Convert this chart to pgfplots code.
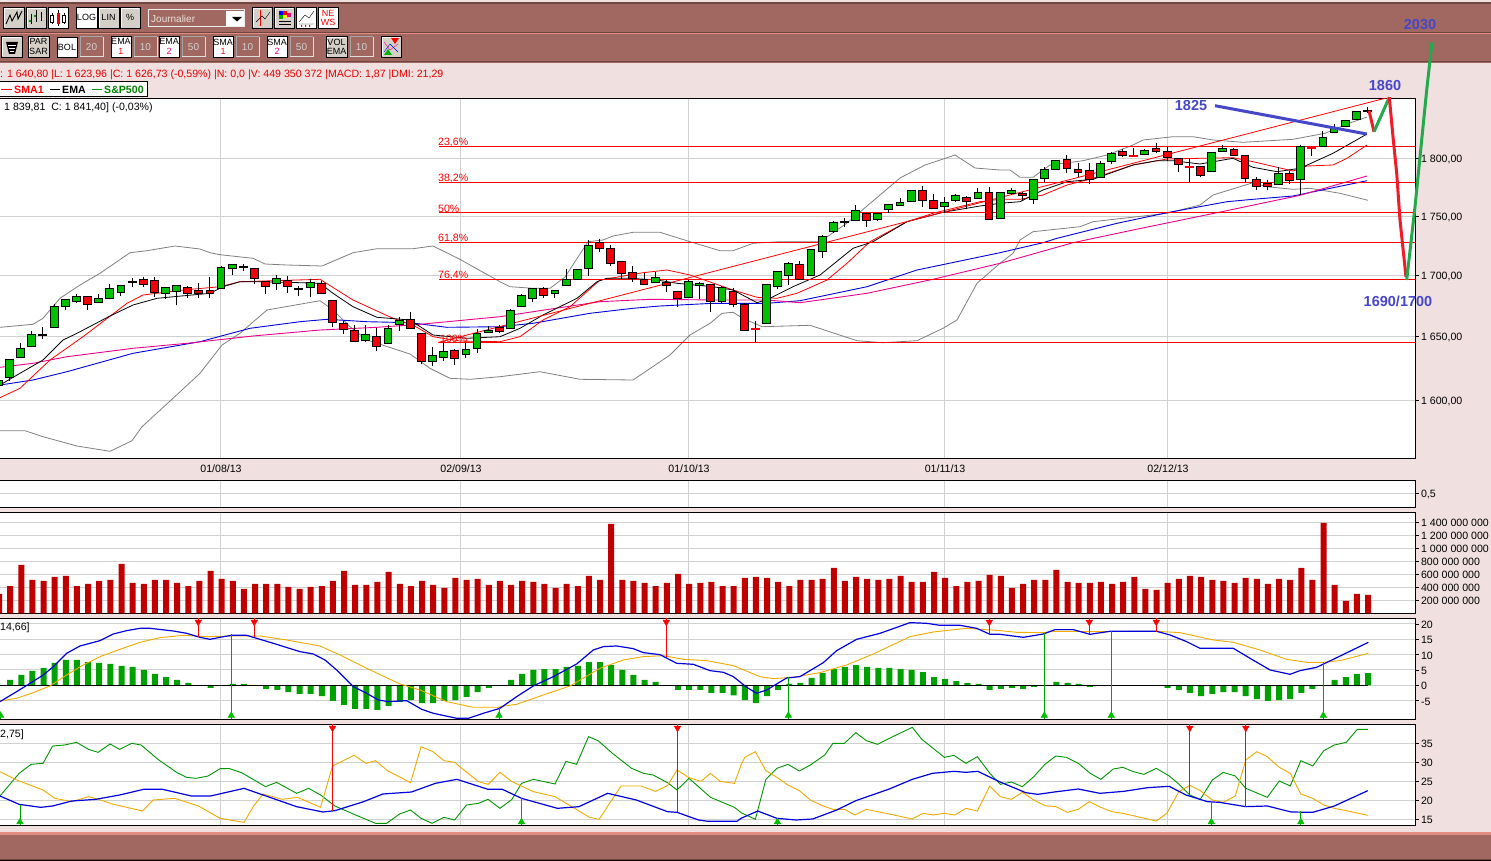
\documentclass[border=0pt]{standalone}
\usepackage{pgfplots}
\usepackage{pgfplotstable}
\usepackage{fontspec}
\setmainfont{Liberation Sans}
\pgfplotsset{compat=1.18}
\definecolor{tb}{RGB}{160,104,96}
\definecolor{tbd}{RGB}{112,70,64}
\definecolor{tbl}{RGB}{226,140,130}
\definecolor{pk}{RGB}{240,224,224}
\definecolor{gridc}{RGB}{208,208,208}
\definecolor{volr}{RGB}{192,0,0}
\definecolor{histg}{RGB}{0,160,0}
\definecolor{cg}{RGB}{0,192,0}
\definecolor{cr}{RGB}{240,0,8}
\definecolor{org}{RGB}{240,170,0}
\definecolor{bl}{RGB}{0,0,220}
\definecolor{bgy}{RGB}{128,128,128}
\definecolor{ann}{RGB}{70,70,200}
\definecolor{tkr}{RGB}{240,28,40}
\definecolor{tkg}{RGB}{34,170,76}
\definecolor{btn}{RGB}{212,208,200}
\definecolor{gline}{RGB}{0,150,0}
\newcommand\fsz{\fontsize{10.6}{12}\selectfont}
\newcommand\afsz{\fontsize{14.5}{16}\bfseries\selectfont}

\pgfplotstableread{
i t b h l
-1 380 385 377 385
0 359 377 359 381
1 348 357 343 357
2 334 346 331 346
4 306 327 304 327
5 299 306 299 310
6 296 301 294 303
8 298 302 294 302
9 288 298 284 298
10 285 292 285 296
14 287 293 287 299
15 285 291 285 305
19 267 288 266 289
20 264 268 264 275
24 278 283 275 290
27 282 287 279 297
32 334 340 325 342
34 328 343 325 343
35 320 324 317 331
38 355 361 347 366
39 351 357 343 361
41 349 354 343 358
42 333 348 329 353
43 330 332 326 333
45 310 328 309 328
46 295 306 294 306
47 288 298 288 302
49 290 293 290 298
50 279 285 269 285
51 269 279 269 279
52 245 268 240 276
58 277 282 272 283
61 281 297 280 297
62 283 285 282 299
64 287 301 286 303
68 284 323 284 323
69 271 286 271 289
70 263 275 262 285
72 249 275 249 275
73 236 251 235 258
74 222 231 221 233
76 210 220 205 220
78 213 219 213 221
79 204 209 204 213
80 202 205 198 206
81 190 201 190 201
84 202 206 197 213
85 195 200 194 202
87 192 198 188 199
89 192 218 192 218
90 190 193 188 195
92 179 199 179 204
93 169 178 167 182
94 160 169 160 169
98 163 177 161 177
99 153 161 152 164
102 150 154 149 155
108 152 171 152 171
109 148 151 145 151
114 173 184 167 184
116 146 179 145 195
118 137 146 131 146
119 127 132 124 132
120 120 126 120 126
121 111 119 111 119
}\greencandles
\pgfplotstableread{
i t b h l
7 296 304 296 310
12 279 284 277 287
13 280 292 277 297
16 287 293 286 298
17 290 293 283 298
18 290 293 277 298
22 268 278 268 284
23 281 286 281 294
25 280 286 276 293
28 283 293 281 294
29 300 322 300 327
30 323 329 321 334
31 330 341 325 342
33 336 346 328 351
36 319 328 312 329
37 333 361 333 364
40 350 358 349 365
44 327 331 325 333
48 288 295 287 298
53 242 248 239 252
54 248 263 245 266
55 261 273 261 279
56 272 278 266 282
57 279 284 273 285
59 282 285 280 292
60 291 298 291 307
63 284 301 284 312
65 291 304 288 307
66 304 330 303 330
71 264 279 261 280
77 213 220 213 227
82 190 200 186 207
83 200 208 194 208
86 197 201 196 209
88 192 219 187 220
91 193 195 192 201
95 159 168 155 173
96 169 172 163 177
97 170 179 163 184
100 151 155 149 157
103 148 151 143 153
104 151 157 147 161
105 158 164 158 172
107 166 175 166 177
110 149 155 148 155
111 155 178 155 182
112 179 186 177 190
113 183 186 180 190
115 173 180 171 184
}\redcandles
\pgfplotstableread{
i t b h l
3 334 335 327 339
11 281 282 278 287
21 266 267 264 271
26 288 289 286 296
75 221 222 218 227
122 110 111 107 113
}\dojiblack
\pgfplotstableread{
i t b h l
67 328 329 321 342
101 155 156 148 157
106 166 167 158 182
117 147 148 146 156
}\dojired
\pgfplotstableread{
i v
-1 297
0 420
1 744
2 513
3 497
4 559
5 574
6 420
7 451
8 497
9 513
10 759
11 467
12 451
13 513
14 513
15 467
16 420
17 497
18 651
19 528
20 497
21 374
22 451
23 451
24 451
25 405
26 374
27 405
28 420
29 497
30 651
31 436
32 436
33 482
34 636
35 451
36 420
37 497
38 436
39 390
40 544
41 513
42 528
43 436
44 497
45 436
46 497
47 482
48 451
49 390
50 451
51 420
52 574
53 513
54 1374
55 513
56 497
57 467
58 420
59 467
60 605
61 451
62 467
63 482
64 420
65 420
66 544
67 559
68 544
69 482
70 420
71 513
72 513
73 528
74 697
75 497
76 559
77 528
78 513
79 528
80 574
81 482
82 482
83 636
84 544
85 420
86 482
87 497
88 590
89 574
90 390
91 451
92 513
93 513
94 667
95 482
96 467
97 467
98 482
99 451
100 482
101 559
102 374
103 359
104 467
105 528
106 574
107 559
108 513
109 497
110 467
111 544
112 528
113 451
114 528
115 513
116 697
117 513
118 1390
119 436
120 190
121 297
122 282
}\volume
\pgfplotstableread{
i v
0 1.74
1 3.4
2 4.7
3 5.65
4 7.3
5 8.3
6 8.3
7 7.6
8 7.3
9 7
10 6.3
11 6
12 5
13 3.7
14 2.7
15 1.74
16 0.76
18 -0.87
20 0.43
21 0.43
23 -1.2
24 -1.5
25 -2.2
26 -2.8
27 -2.8
28 -3.5
29 -5.1
30 -6.4
31 -7.7
32 -7.7
33 -8
34 -6.7
35 -5.4
36 -4.8
37 -5.8
38 -5.8
39 -5.1
40 -4.8
41 -3.8
42 -2.2
43 -0.87
45 1.74
46 3.7
47 5
48 5.3
49 5.3
50 6
51 6.3
52 7.6
53 7.6
54 6.6
55 5
56 3.4
57 1.74
58 1.1
60 -1.5
61 -1.5
62 -1.5
63 -2.5
64 -2.5
65 -3.3
66 -4.8
67 -5.8
68 -3.5
69 -1.5
70 0.43
71 0.76
72 2.4
73 4
74 5.3
75 6
76 6.6
77 6
78 5.65
79 5.65
80 5.3
81 5
82 4.3
83 2.7
84 2
85 1.4
86 0.76
87 0.43
88 -1.5
89 -1.2
90 -0.87
91 -1.2
92 -0.5
94 1.1
95 0.76
96 0.43
97 -0.5
104 -0.87
105 -1.5
106 -2.5
107 -3.5
108 -2.8
109 -2.2
110 -2.2
111 -3.5
112 -4.5
113 -5.1
114 -4.8
115 -4.5
116 -2.5
117 -1.2
119 1.74
120 2.7
121 3.7
122 4
}\hist

% candle drawing through error bars: wick, black body, coloured body
\newcommand\wicks[1]{\addplot[draw=none,mark=none,forget plot,error bars/.cd,y dir=both,y explicit,error mark=none,error bar style={black,line width=1pt}] table[x expr=9.6+11.13*\thisrow{i},y=t,y error plus expr=\thisrow{l}-\thisrow{t},y error minus expr=\thisrow{t}-\thisrow{h}] {#1};}
\newcommand\bodies[3]{\addplot[draw=none,mark=none,forget plot,error bars/.cd,y dir=both,y explicit,error mark=none,error bar style={#2,line width=#3}] table[x expr=9.6+11.13*\thisrow{i},y expr=\thisrow{t}-0.5,y error plus expr=\thisrow{b}-\thisrow{t}+1,y error minus expr=0] {#1};}
\newcommand\inner[3]{\addplot[draw=none,mark=none,forget plot,error bars/.cd,y dir=both,y explicit,error mark=none,error bar style={#2,line width=#3}] table[x expr=9.6+11.13*\thisrow{i},y expr=\thisrow{t}+0.5,y error plus expr=\thisrow{b}-\thisrow{t}-1,y error minus expr=0] {#1};}
% signals
\newcommand\sigdn[4]{\addplot[red,line width=.9pt,forget plot] coordinates {(#1,#2)(#1,#3)};\addplot[only marks,mark=triangle*,mark size=3.8pt,mark options={rotate=180,fill=red,draw=red},forget plot] coordinates {(#1,#4)};}
\newcommand\sigup[4]{\addplot[cg!85!black,line width=.9pt,forget plot] coordinates {(#1,#2)(#1,#3)};\addplot[only marks,mark=triangle*,mark size=3.8pt,mark options={fill=cg,draw=cg},forget plot] coordinates {(#1,#4)};}
% buttons
\newcommand\btn[6]{\fill[#5] (#1,#2) rectangle (#3,#4);\draw[black,line width=.8pt] (#1,#2) rectangle (#3,#4);\draw[white,line width=.6pt] (#1+1,#4-1)--(#1+1,#2+1)--(#3-1,#2+1);\node[inner sep=0,align=center,font=\fontsize{9}{9.2}\selectfont] at ({(#1+#3)/2},{(#2+#4)/2}) {#6};}
\newcommand\fld[5]{\fill[tb] (#1,#2) rectangle (#3,#4);\draw[gray!70,line width=1pt] (#1,#4)--(#1,#2)--(#3,#2);\draw[gray!25,line width=1pt] (#3,#2)--(#3,#4)--(#1,#4);\node[inner sep=0,text=gray!35,font=\fontsize{10}{10}\selectfont] at ({(#1+#3)/2},{(#2+#4)/2}) {#5};}

\pgfplotsset{panel/.style={scale only axis,width=1416.5pt,xmin=-1,xmax=1415.5,
 xtick={220.5,460.5,688.5,944.5,1167.5},xmajorgrids,ymajorgrids,
 grid style={gridc,line width=1pt},axis line style={black,line width=1pt},
 axis background/.style={fill=white},
 xtick style={draw=none},ytick style={black,line width=.8pt},
 ytick pos=right,yticklabel pos=right,tick align=outside,major tick length=3pt,
 tick label style={font=\fsz,text=black},
 yticklabel style={anchor=west,xshift=-1pt,yshift=-0.8pt},
 scaled y ticks=false}}
\begin{document}
\begin{tikzpicture}[x=1pt,y=-1pt]
\useasboundingbox (0,0) rectangle (1491,861);
\clip (0,0) rectangle (1491,861);
\fill[pk] (0,0) rectangle (1491,861);
% toolbars
\fill[tb] (0,2) rectangle (1491,63);
\fill[tbd] (0,2.5) rectangle (1491,3.6);
\fill[tbd] (0,32.4) rectangle (1491,33.4);
\fill[tbl] (0,33.4) rectangle (1491,34.2);
\fill[tbd] (0,60.6) rectangle (1491,62);
\btn{3.5}{7.5}{24}{28}{btn}{}
\draw[black,line width=.9pt] (6,24)--(10,15)--(12,21)--(17,12)--(18,19)--(22,11);
\btn{26}{7.5}{46}{28}{btn}{}
\draw[black,line width=.9pt] (31,14)--(31,24) (36,10)--(36,22) (41,12)--(41,21);
\draw[green!60!black,line width=1.5pt] (28.5,21)--(31,21) (33.5,16)--(36,16);
\btn{48}{7.5}{68}{28}{white}{}
\draw[black] (52,13)--(52,24) (58,10)--(58,26) (64,13)--(64,24);
\fill[cr] (56.5,13) rectangle (59.5,24);
\fill[white,draw=black] (50.5,15) rectangle (53.5,22) (62.5,15) rectangle (65.5,22);
\btn{76}{7.5}{97}{28}{white}{LOG}
\btn{98}{7.5}{119}{28}{btn}{LIN}
\btn{120}{7.5}{140}{28}{btn}{\%}
\draw[white!85!gray,line width=1pt] (148,10) rectangle (244,27);
\fill[white] (226,11) rectangle (243.5,26.5);
\fill[black] (232,17) -- (242,17) -- (237,21.5) -- cycle;
\node[anchor=west,inner sep=0,text=white!80!tb,font=\fontsize{10}{10}\selectfont] at (151,19) {Journalier};
\btn{252}{7.5}{272}{28}{btn}{}
\draw[red,line width=1pt] (260,10)--(260,26);
\draw[black] (256,22)--(262,16)--(265,19)--(270,12);
\btn{274}{7.5}{294}{28}{btn}{}
\fill[blue] (279,11) rectangle (283,15); \fill[red] (283,11) rectangle (287,15);\fill[magenta] (287,13) rectangle (291,17);\fill[green!70!black] (279,15) rectangle (283,19);\fill[yellow] (284,15) rectangle (287,18);\fill[black] (279,21) rectangle (291,22);\fill[black] (279,24) rectangle (291,25);
\btn{296}{7.5}{316}{28}{white}{}
\draw[black] (299,22)--(305,15)--(309,18)--(314,11) (299,24)--(314,24);
\fill[cr] (301,25) rectangle (302,27) (305,25) rectangle (306,27) (309,25) rectangle (310,27);
\btn{318}{7.5}{338}{28}{white}{\textcolor{red}{NE}\\\textcolor{red}{WS}}
\btn{1}{36}{22}{57}{btn}{}
\fill[black] (6,42) -- (18,42) -- (15,54) -- (9,54) -- cycle;
\draw[white,line width=.5pt] (8,45)--(16,45) (9,48)--(15,48) (10,51)--(14,51);
\btn{28}{36}{49}{57}{btn}{PAR\\SAR}
\btn{57}{37}{77}{57}{white}{BOL}
\fld{80}{37}{103}{57}{20}
\btn{111}{36}{131}{57}{white}{EMA\\\textcolor{red}{1}}
\fld{134}{37}{157}{57}{10}
\btn{159}{36}{179}{57}{white}{EMA\\\textcolor{magenta}{2}}
\fld{182}{37}{205}{57}{50}
\btn{213}{36}{233}{57}{white}{SMA\\\textcolor{red}{1}}
\fld{236}{37}{259}{57}{10}
\btn{267}{36}{287}{57}{white}{SMA\\\textcolor{magenta}{2}}
\fld{290}{37}{313}{57}{50}
\btn{326}{36}{347}{57}{btn}{VOL\\EMA}
\fld{350}{37}{373}{57}{10}
\btn{381}{36}{401}{57}{btn}{}
\draw[magenta] (384,42)--(390,50)--(398,44);
\draw[blue] (384,52)--(390,44)--(398,52);
\fill[red] (391,38)--(399,38)--(395,44)--cycle;
\fill[green!70!black] (384,55)--(392,55)--(388,49)--cycle;
% bottom bar
\fill[tb] (0,832) rectangle (1491,861);
\fill[tbl] (0,832) rectangle (1491,834.6);
\fill[tbd] (0,858.6) rectangle (1491,860);
\fill[black] (0,860) rectangle (1491,861);

% ---------- main price panel (rows of the plot, prices on the ticks)
\begin{axis}[panel,at={(-1pt,-458.3pt)},anchor=south west,height=360pt,y dir=reverse,
 ymin=98.3,ymax=458.3,
 ytick={158.3,216.3,275.3,336.8,400.3},
 yticklabels={{1 800,00},{1 750,00},{1 700,00},{1 650,00},{1 600,00}},
 xticklabels={01/08/13,02/09/13,01/10/13,01/11/13,02/12/13},
 xticklabel style={yshift=0pt,xshift=0.5pt}]
% Bollinger
\addplot[bgy,line width=.8pt] coordinates {(0,327.3)(33,324.3)(43,318.3)(60,298.3)(80,285)(100,273.3)(130,252.7)(147,250.7)(175,246)(200,249)(210,252.7)(220,254.7)(253,258.3)(265,264)(287,265)(322,266)(353,252.7)(377,248.7)(413,248.7)(433,246)(460,259.3)(473,266.7)(500,281.7)(510,286.7)(533,288.3)(550,288.3)(565,277)(588,241.7)(603,240)(613,236)(633,232.3)(660,232.3)(690,241.7)(720,250.7)(733,250.7)(753,243.3)(780,241.7)(820,241.7)(847,223)(880,195)(900,178)(925,165)(955,155)(975,168)(1000,170)(1010,170)(1020,177.3)(1033,177.3)(1050,165)(1083,160.7)(1107,155)(1133,145)(1143,140)(1173,136.7)(1193,136.7)(1213,140)(1243,142.3)(1293,139.3)(1325,133.3)(1347,124)(1367,117)};
\addplot[bgy,line width=.8pt] coordinates {(0,430.7)(25,430.7)(43,436.7)(77,446)(110,451.3)(132,440.7)(142,426.7)(173,398.3)(200,373.3)(222,345)(240,333.3)(267,310)(320,300.7)(333,310)(350,326.7)(367,340)(410,354)(430,368.3)(450,378.3)(470,379.3)(500,376.7)(540,371.7)(580,379.3)(633,380)(670,355)(690,335)(710,323.3)(722,313.3)(733,312.3)(743,318.3)(762,326.7)(810,325.3)(857,340.7)(883,342.7)(917,340.7)(943,328.3)(957,320)(977,283.3)(1000,263.3)(1013,253.3)(1020,240)(1033,231.7)(1080,226.7)(1093,221.7)(1167,213.3)(1200,205)(1213,195)(1253,182.7)(1267,186.7)(1293,189.3)(1310,188.3)(1340,193.3)(1368,200.3)};
% EMA 50 and SMA 50
\addplot[bl,line width=.9pt] coordinates {(0,385)(33,380)(67,371.7)(133,353.3)(200,341.7)(250,328.3)(300,321.7)(327,319.3)(367,321.7)(410,322.7)(447,327.3)(500,326.7)(533,323.3)(590,313.3)(633,308.3)(660,306)(713,303.3)(767,303.3)(800,300.7)(867,286.7)(917,270)(1000,252.7)(1043,242.7)(1057,238.3)(1117,223.3)(1167,212.7)(1227,201.7)(1253,199.3)(1293,196)(1367,180.7)};
\addplot[magenta,line width=.9pt] coordinates {(0,367.3)(33,363.3)(67,356.7)(133,348.3)(187,343.3)(253,336)(320,330)(377,327.3)(420,324.3)(500,316.7)(533,311.7)(600,301.7)(650,299.3)(717,300)(767,300)(800,302.7)(867,293.3)(933,279.3)(1000,263.3)(1073,242.7)(1133,230)(1217,212.7)(1300,195.3)(1367,176)};
% SMA 10 and EMA 10
\addplot[red,line width=.8pt] coordinates {(0,397.7)(20,388.3)(50,360)(83,336.7)(127,303.3)(143,295)(183,290)(220,286.7)(240,281.7)(320,279.3)(353,300)(393,318.3)(413,325)(433,336.7)(460,341)(500,341.7)(520,336.7)(543,320)(570,306.7)(600,280)(643,272.7)(667,270)(690,275)(733,290)(757,297.3)(777,298.3)(797,293.3)(827,280)(847,263.3)(870,241.7)(907,221.7)(933,213.3)(980,201.7)(1000,199.3)(1020,199.3)(1043,195)(1067,185)(1093,178.3)(1133,165)(1167,159)(1200,158.3)(1233,157.7)(1253,161.7)(1293,171)(1307,166)(1333,165)(1347,158.3)(1367,145)};
\addplot[black,line width=.8pt] coordinates {(0,385)(20,373.3)(43,360)(63,340)(77,333.3)(110,316)(133,305)(157,298.3)(210,293.3)(223,286.7)(240,281.7)(260,281.7)(287,282.3)(320,283.3)(333,293.3)(353,306.7)(377,317.3)(410,320)(433,335)(467,338.3)(500,336.7)(520,328.3)(543,315)(577,298.3)(597,281.7)(607,278.3)(630,278.3)(657,280)(677,283.3)(713,286.7)(733,290)(757,302.7)(770,298.3)(793,286.7)(820,275)(853,248.3)(873,241.7)(907,221.7)(943,212.3)(980,206)(1000,203.3)(1020,201.7)(1043,190)(1067,181.7)(1093,179.3)(1133,165)(1157,160.7)(1173,160.7)(1200,164)(1233,158.3)(1253,167.3)(1277,171.7)(1300,168.3)(1333,153.3)(1367,134)};
% trend line and retracement levels
\addplot[red,line width=.8pt] coordinates {(438,342.5)(1390,97)};
\addplot[red,line width=.9pt] coordinates {(439,146.3)(1415.5,146.3)};
\addplot[red,line width=.9pt] coordinates {(439,182.3)(1415.5,182.3)};
\addplot[red,line width=.9pt] coordinates {(439,212.5)(1415.5,212.5)};
\addplot[red,line width=.9pt] coordinates {(439,242.3)(1415.5,242.3)};
\addplot[red,line width=.9pt] coordinates {(439,279.3)(1415.5,279.3)};
\addplot[red,line width=.9pt] coordinates {(439,342.3)(1415.5,342.3)};
% candles
\wicks{\greencandles}\wicks{\redcandles}\wicks{\dojiblack}\wicks{\dojired}
\bodies{\greencandles}{black}{8.8pt}\bodies{\redcandles}{black}{8.8pt}
\bodies{\dojiblack}{black}{9pt}\bodies{\dojired}{cr}{9pt}
\inner{\greencandles}{cg}{6.8pt}\inner{\redcandles}{cr}{6.8pt}
\end{axis}

% ---------- empty oscillator panel
\begin{axis}[panel,at={(-1pt,-507.3pt)},anchor=south west,height=27pt,ymin=0,ymax=1,
 ytick={0.5},yticklabel={0,5},xticklabel=\empty]
\addplot[draw=none,forget plot] coordinates {(0,0)(1,1)};
\end{axis}

% ---------- volume
\begin{axis}[panel,at={(-1pt,-613.3pt)},anchor=south west,height=101pt,ymin=0,ymax=1553.8,
 ytick={200,400,600,800,1000,1200,1400},
 yticklabels={{200 000 000},{400 000 000},{600 000 000},{800 000 000},{1 000 000 000},{1 200 000 000},{1 400 000 000}},
 xticklabel=\empty]
\addplot[ybar,bar width=6pt,bar shift=0pt,fill=volr,draw=none] table[x expr=10.2+11.13*\thisrow{i},y=v] {\volume};
\end{axis}

% ---------- MACD
\begin{axis}[panel,at={(-1pt,-719.3pt)},anchor=south west,height=101pt,ymin=-11.09,ymax=21.85,
 ytick={-5,0,5,10,15,20},yticklabels={-5,0,5,10,15,20},xticklabel=\empty]
\addplot[ybar,bar width=6pt,bar shift=0pt,fill=histg,draw=none,forget plot] table[x expr=10.2+11.13*\thisrow{i},y=v] {\hist};
\addplot[black,line width=.9pt,forget plot] coordinates {(-1,0)(1368,0)};
% orange signal
\addplot[org,line width=.9pt] table[x expr=\thisrow{x}/3,y expr=(616-\thisrow{y})/9.2] {
x y
0 663
50 655
100 638
150 618
200 585
250 555
300 530
360 508
420 487
480 473
550 466
620 470
700 468
780 468
860 480
960 498
1020 525
1100 565
1200 612
1260 630
1340 665
1420 682
1500 682
};
\addplot[org,line width=.9pt] table[x expr=500+\thisrow{x}/3,y expr=(616-\thisrow{y})/9.2] {
x y
0 680
50 673
130 645
210 618
300 565
370 540
430 530
490 527
550 538
620 542
700 557
780 590
820 596
880 592
960 578
1040 555
1120 522
1230 470
1300 456
1400 445
1500 452
};
\addplot[org,line width=.9pt] table[x expr=1000+\thisrow{x}/3,y expr=(616-\thisrow{y})/9.2] {
x y
0 452
50 457
130 458
160 454
220 454
270 455
470 454
540 458
640 480
700 487
780 510
860 538
920 547
970 547
1020 542
1105 520
};
% blue MACD
\addplot[bl,line width=1.2pt] table[x expr=\thisrow{x}/3,y expr=(616-\thisrow{y})/9.2] {
x y
0 665
50 635
90 610
130 585
160 560
200 520
240 498
300 482
340 462
380 452
420 445
450 445
520 453
560 460
600 472
630 478
660 472
695 466
740 466
780 478
820 490
900 515
940 522
975 540
1010 570
1060 620
1100 640
1135 660
1165 665
1220 662
1265 688
1300 700
1370 715
1405 715
1450 700
1500 685
};
\addplot[bl,line width=1.2pt] table[x expr=500+\thisrow{x}/3,y expr=(616-\thisrow{y})/9.2] {
x y
0 685
50 650
100 618
160 590
230 552
280 510
310 500
350 498
400 506
430 518
480 524
530 550
580 553
630 572
670 577
700 590
740 622
770 640
800 630
860 594
900 590
970 548
1010 512
1070 478
1140 460
1230 428
1280 430
1320 436
1380 436
1430 445
1470 463
1500 463
};
\addplot[bl,line width=1.2pt] table[x expr=1000+\thisrow{x}/3,y expr=(616-\thisrow{y})/9.2] {
x y
0 463
70 472
130 462
165 449
220 449
270 463
330 454
470 454
510 465
560 485
600 505
700 505
750 535
810 570
870 583
900 572
950 562
1000 538
1105 487
};
\sigdn{198.3}{21.85}{15.8}{20.64}
\sigdn{254.3}{21.85}{15.7}{20.64}
\sigdn{666.3}{21.85}{9.3}{20.64}
\sigdn{989.3}{21.85}{16.7}{20.64}
\sigdn{1089.3}{21.85}{16.6}{20.64}
\sigdn{1156.3}{21.85}{17.4}{20.64}
\sigup{0.5}{-11.09}{-9}{-9.85}
\sigup{231.3}{-11.09}{16.6}{-9.85}
\sigup{499}{-11.09}{-7}{-9.85}
\sigup{788.3}{-11.09}{2.8}{-9.85}
\sigup{1044.3}{-11.09}{17.15}{-9.85}
\sigup{1111.3}{-11.09}{17.8}{-9.85}
\sigup{1323.3}{-11.09}{7.6}{-9.85}
\end{axis}

% ---------- DMI
\begin{axis}[panel,at={(-1pt,-825.3pt)},anchor=south west,height=101pt,ymin=13.42,ymax=40,
 ytick={15,20,25,30,35},yticklabels={15,20,25,30,35},xticklabel=\empty]
\addplot[gline,line width=.9pt] table[x expr=\thisrow{x}/2.09,y expr=15+(297.9-\thisrow{y})/11.4] {
x y
0 228
40 160
65 133
90 130
110 78
135 75
160 67
185 88
205 97
230 72
250 88
275 70
295 75
330 118
370 158
390 172
410 175
435 168
460 146
480 146
505 158
555 200
578 187
620 220
645 205
670 225
700 258
740 283
785 310
808 310
835 282
858 270
880 295
903 310
928 292
950 300
975 255
1000 250
1020 238
1045 265
1070 238
1090 190
1115 178
1160 192
1183 124
1205 133
1230 50
1250 62
1280 100
1320 145
1345 160
1365 165
1395 188
1415 210
1440 175
1485 232
1535 262
1549 278
};
\addplot[gline,line width=.9pt] table[x expr=741+\thisrow{x}/2.09,y expr=15+(297.9-\thisrow{y})/11.4] {
x y
0 278
30 298
52 178
75 145
98 133
122 153
145 135
175 105
192 70
216 70
240 38
262 62
285 73
310 55
358 22
378 58
425 112
445 106
470 130
494 110
520 160
542 193
565 186
588 200
612 170
635 133
658 108
680 112
705 130
730 160
752 178
778 147
798 142
820 155
842 163
868 145
895 168
915 192
938 225
960 238
985 180
1008 157
1033 168
1055 205
1100 232
1125 183
1148 198
1170 122
1195 138
1218 92
1240 75
1265 67
1288 28
1310 28
};
\addplot[org,line width=.9pt] table[x expr=\thisrow{x}/2.09,y expr=15+(297.9-\thisrow{y})/11.4] {
x y
0 155
35 180
90 210
115 235
150 245
185 230
210 240
235 252
298 273
320 240
365 235
415 258
460 295
510 307
530 258
550 222
590 238
622 232
670 262
695 138
740 106
765 130
785 122
810 152
858 188
880 80
905 95
928 122
950 127
1000 185
1020 193
1045 157
1070 185
1115 215
1160 230
1195 260
1232 292
1252 298
1298 198
1340 198
1370 214
1395 197
1415 150
1440 173
1465 184
1485 160
1505 184
1535 190
1549 135
};
\addplot[org,line width=.9pt] table[x expr=741+\thisrow{x}/2.09,y expr=15+(297.9-\thisrow{y})/11.4] {
x y
0 135
8 112
30 95
52 152
75 172
98 195
122 212
145 240
170 257
192 268
216 268
238 285
262 268
310 282
358 297
380 280
402 285
425 280
447 285
470 265
494 273
520 198
542 230
565 238
588 217
612 240
635 257
658 260
682 277
705 268
728 245
752 262
775 275
798 280
868 303
890 280
915 215
938 196
960 212
985 240
1008 247
1033 228
1055 120
1078 95
1100 110
1125 142
1148 160
1170 222
1195 235
1218 255
1240 265
1265 272
1310 286
};
\addplot[bl,line width=1.2pt] table[x expr=\thisrow{x}/2.09,y expr=15+(297.9-\thisrow{y})/11.4] {
x y
0 228
40 253
85 262
110 258
150 243
200 238
250 225
300 208
340 208
400 228
440 228
510 205
550 225
620 260
675 276
700 272
760 245
800 222
860 216
910 190
955 178
1020 208
1050 208
1090 235
1165 265
1210 260
1270 220
1330 240
1395 275
1415 277
1460 300
1480 304
1540 304
1549 295
};
\addplot[bl,line width=1.2pt] table[x expr=741+\thisrow{x}/2.09,y expr=15+(297.9-\thisrow{y})/11.4] {
x y
0 295
35 273
75 295
115 300
150 297
200 270
240 242
260 232
310 207
358 178
400 160
445 154
470 157
495 154
540 185
595 218
620 223
660 215
705 207
750 220
800 214
850 203
895 199
930 225
975 245
1000 247
1055 260
1100 258
1150 276
1195 277
1240 258
1310 212
};
\sigdn{332.5}{40}{17.26}{39.03}
\sigdn{677.5}{40}{17}{39.03}
\sigdn{1189.8}{40}{21.1}{39.03}
\sigdn{1245.8}{40}{18.3}{39.03}
\sigup{20}{13.42}{18.76}{14.3}
\sigup{521.5}{13.42}{20.5}{14.3}
\sigup{777.4}{13.42}{15}{14.3}
\sigup{1211.3}{13.42}{19.6}{14.3}
\sigup{1300.8}{13.42}{17.26}{14.3}
\end{axis}

% ---------- annotations over everything
\begin{axis}[scale only axis,at={(0pt,-861pt)},anchor=south west,width=1491pt,height=861pt,
 xmin=0,xmax=1491,ymin=0,ymax=861,y dir=reverse,hide axis,clip=false]
\addplot[ann,line width=3pt] coordinates {(1215,105.7)(1366.7,134)};
\addplot[tkr,line width=3pt] coordinates {(1369,110.7)(1374,131.7)};
\addplot[tkg,line width=3pt] coordinates {(1374,131.7)(1389.3,97.3)};
\addplot[tkr,line width=3pt] coordinates {(1389.3,97.3)(1393.3,140)(1396.7,173.3)(1400,220)(1406,277)};
\addplot[tkg,line width=3pt] coordinates {(1406.7,280)(1415,206.7)(1426.7,90)(1432,42)};
\node[anchor=center,inner sep=0,text=ann,font=\afsz] at (axis cs:1191,106) {1825};
\node[anchor=center,inner sep=0,text=ann,font=\afsz] at (axis cs:1385,86) {1860};
\node[anchor=center,inner sep=0,text=ann,font=\afsz] at (axis cs:1420,25) {2030};
\node[anchor=center,inner sep=0,text=ann,font=\afsz] at (axis cs:1398,301) {1690/1700};
% retracement labels
\node[anchor=west,inner sep=0,text=red,font=\fsz] at (axis cs:438,142.5) {23,6\%};
\node[anchor=west,inner sep=0,text=red,font=\fsz] at (axis cs:438,178.5) {38,2\%};
\node[anchor=west,inner sep=0,text=red,font=\fsz] at (axis cs:438,208.5) {50\%};
\node[anchor=west,inner sep=0,text=red,font=\fsz] at (axis cs:438,238.5) {61,8\%};
\node[anchor=west,inner sep=0,text=red,font=\fsz] at (axis cs:438,275.5) {76,4\%};
\node[anchor=west,inner sep=0,text=red,font=\fsz] at (axis cs:440,338.5) {100\%};
% information lines
\node[anchor=west,inner sep=0,text=red!90!black,font=\fsz] at (axis cs:0,74.5) {: 1 640,80 |L: 1 623,96 |C: 1 626,73 (-0,59\%) |N: 0,0 |V: 449 350 372 |MACD: 1,87 |DMI: 21,29};
\node[anchor=west,inner sep=0,font=\fsz] at (axis cs:4,107.5) {1 839,81\ \ C: 1 841,40] (-0,03\%)};
\node[anchor=west,inner sep=0,font=\fsz] at (axis cs:0,627.5) {14,66]};
\node[anchor=west,inner sep=0,font=\fsz] at (axis cs:0,734.5) {2,75]};
% legend strip
\addplot[black,fill=white,line width=1pt] coordinates {(-2,81.7)(147,81.7)(147,96)(-2,96)(-2,81.7)};
\addplot[red,line width=1pt] coordinates {(1,89)(12,89)};
\addplot[black,line width=1pt] coordinates {(50,89)(60,89)};
\addplot[green!60!black,line width=1pt] coordinates {(92,89)(102,89)};
\node[anchor=west,inner sep=0,text=red,font=\fontsize{10.6}{12}\bfseries\selectfont] at (axis cs:14,89.8) {SMA1};
\node[anchor=west,inner sep=0,text=black,font=\fontsize{10.6}{12}\bfseries\selectfont] at (axis cs:62,89.8) {EMA};
\node[anchor=west,inner sep=0,text=green!50!black,font=\fontsize{10.6}{12}\bfseries\selectfont] at (axis cs:104,89.8) {S\&P500};
\end{axis}
\end{tikzpicture}
\end{document}
